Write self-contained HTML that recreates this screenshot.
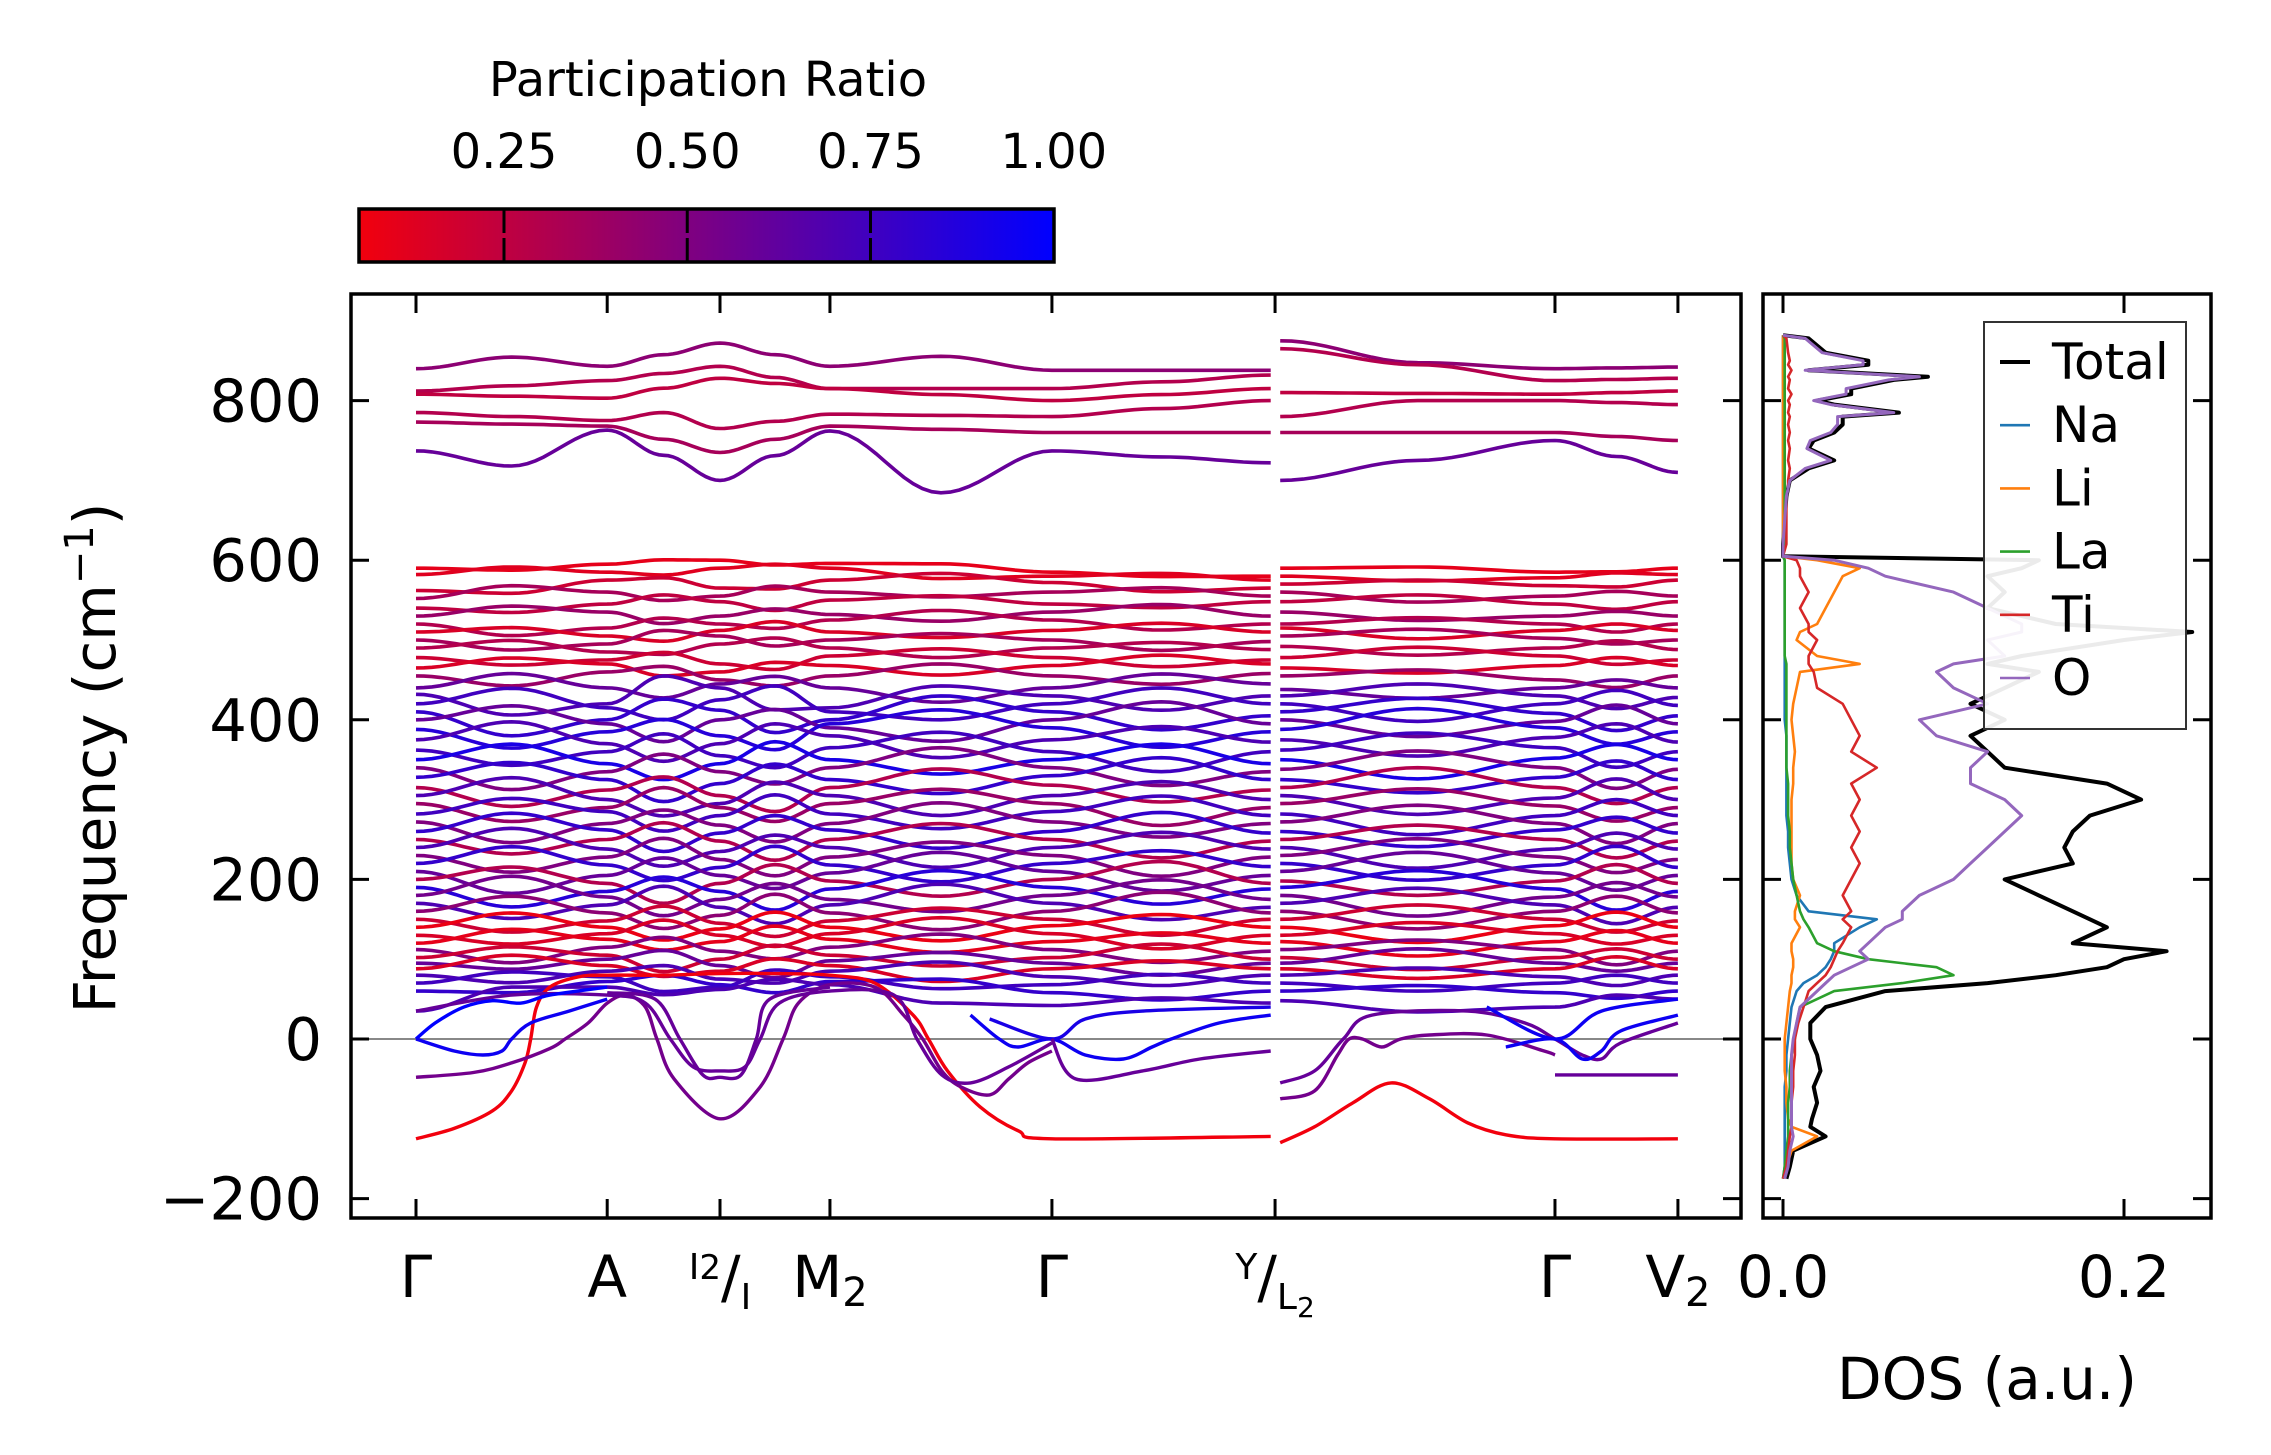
<!DOCTYPE html>
<html><head><meta charset="utf-8"><style>
html,body{margin:0;padding:0;background:#fff;}
svg{display:block;font-family:"DejaVu Sans","Liberation Sans",sans-serif;}
</style></head><body>
<svg id="fig" width="2271" height="1455" viewBox="0 0 2271 1455" xmlns="http://www.w3.org/2000/svg">
<defs>
<linearGradient id="cbgrad" x1="0" x2="1" y1="0" y2="0">
<stop offset="0" stop-color="rgb(242,0,13)"/><stop offset="1" stop-color="rgb(0,0,255)"/>
</linearGradient>
<clipPath id="bandclip"><rect x="351" y="294" width="1390" height="924"/></clipPath>
<clipPath id="dosclip"><rect x="1763" y="294" width="448" height="924"/></clipPath>
</defs>
<g id="colorbar">
<text x="708" y="96" font-size="48" text-anchor="middle">Participation Ratio</text>
<rect x="359" y="209" width="695" height="53" fill="url(#cbgrad)" stroke="#000" stroke-width="3.5"/>
</g>
<g id="bandLayer" clip-path="url(#bandclip)"></g>
<g id="bandAxes"></g>
<g id="dosLayer" clip-path="url(#dosclip)"></g>
<g id="dosAxes"></g>
</svg>
<script>
// ---------- Colorbar data ----------
const cbTicks = [0.25, 0.50, 0.75, 1.00];
const cbTickLabels = ["0.25", "0.50", "0.75", "1.00"];
// ---------- Band structure data ----------
const kLabelPos = [0, 1, 1.59, 2.165, 3.326, 4.493, 5.957, 6.6];
const kNodes = [0, 1, 1.59, 2.165, 3.326, 4.47, 4.52, 5.957, 6.6];
const yTicks = [-200, 0, 200, 400, 600, 800];
const yTickLabels = ["\u2212200", "0", "200", "400", "600", "800"];
// node-valued bands: [Γ, A, I, M2, Γ, Y, L2, Γ, V2]
const bandNodes = [
[840,843,872,843,838,838,875,840,842],
[812,825,843,815,815,832,865,825,828],
[808,803,828,815,800,815,810,808,812],
[785,775,765,783,780,800,780,800,795],
[773,768,735,768,760,760,760,760,750],
[737,763,700,762,737,722,700,750,710],
[590,595,600,596,585,580,590,585,590],
[582,585,590,590,580,575,580,578,582],
[562,575,565,575,572,565,570,568,575],
[552,560,555,560,560,555,560,555,555],
[540,545,548,550,545,548,548,545,548],
[530,535,530,532,535,530,535,530,530],
[520,515,520,525,525,520,520,520,520],
[510,505,512,510,512,510,515,512,512],
[500,495,505,500,500,498,505,502,500],
[490,485,495,490,490,488,492,490,488],
[478,475,470,480,478,475,478,480,475],
[465,470,460,468,468,470,465,468,468],
[455,460,450,455,455,458,455,450,455],
[440,440,445,440,440,445,438,440,440],
[432,420,440,415,430,430,430,430,428],
[420,415,425,410,420,420,420,420,418],
[410,400,412,400,410,405,410,408,405],
[400,395,400,390,400,395,400,398,395],
[388,385,380,395,390,385,388,390,385],
[375,370,370,380,375,372,375,378,372],
[362,360,355,365,360,360,362,365,360],
[350,345,345,350,350,345,350,352,350],
[340,335,335,340,340,335,338,340,338],
[328,325,320,325,330,325,325,328,325],
[315,312,305,315,318,312,315,315,315],
[305,300,295,305,305,300,305,302,300],
[295,290,290,295,295,290,295,292,290],
[282,285,280,282,285,280,282,280,280],
[272,270,268,270,272,270,272,270,270],
[260,262,258,262,260,258,260,262,258],
[250,250,248,250,250,248,250,250,248],
[240,238,235,240,240,238,240,238,238],
[230,228,225,228,230,228,230,228,225],
[220,218,215,218,220,216,220,218,215],
[210,205,205,208,210,205,210,208,205],
[200,195,195,198,200,195,198,198,195],
[190,185,185,188,190,188,190,188,185],
[180,178,175,175,180,175,180,178,178],
[170,168,165,168,170,165,170,168,165],
[160,158,155,158,160,158,160,160,158],
[150,148,145,148,150,150,150,150,148],
[140,140,138,140,142,140,140,142,140],
[130,132,130,132,132,130,130,132,130],
[120,125,122,125,122,120,122,122,120],
[112,115,110,115,112,110,112,112,110],
[102,105,100,105,102,100,102,102,100],
[95,100,92,98,95,95,95,95,95],
[88,92,85,92,88,88,88,88,88],
[80,85,75,85,78,80,80,78,80],
[70,78,65,78,68,70,70,70,70],
[60,72,68,72,58,60,60,58,60],
[35,65,62,68,42,45,48,40,50]
];
// mid-segment offsets: [Γ-A, A-I, I-M2, M2-Γ, Γ-Y, L2-Γ, Γ-V2]
const bandMid = [
[13,0,0,15,0,-10,0],
[0,0,0,0,0,0,0],
[0,0,0,0,0,0,0],
[0,15,0,0,0,10,0],
[0,0,0,0,0,0,0],
[-32,0,0,-65,0,0,0],
[-5,3,-4,5,-3,4,-2],
[8,-6,5,-8,6,-5,4],
[-10,8,-6,10,-8,6,-5],
[12,-8,10,-6,8,-10,6],
[-8,10,-12,8,-6,10,-8],
[10,-12,8,-10,12,-8,6],
[-12,10,-8,12,-10,8,-10],
[8,-10,12,-8,10,-12,8],
[-10,12,-10,8,-12,10,-6],
[12,-8,10,-12,8,-10,10],
[-8,12,-12,10,-10,12,-8],
[10,-10,8,-12,12,-8,10],
[-15,12,-10,15,-12,10,-12],
[18,-15,12,-18,15,-12,10],
[-20,25,-15,20,-18,15,-15],
[22,-20,25,-15,20,-22,18],
[-25,20,-22,25,-20,18,-20],
[20,-25,18,-22,25,-20,22],
[-22,18,-25,20,-22,25,-18],
[25,-22,20,-25,18,-22,20],
[-18,25,-20,22,-25,20,-22],
[22,-20,25,-18,22,-25,18],
[-25,22,-18,25,-20,22,-25],
[20,-25,22,-20,25,-18,22],
[-22,20,-25,22,-18,25,-20],
[25,-18,22,-25,20,-22,25],
[-20,25,-20,18,-25,20,-18],
[18,-22,25,-20,22,-25,20],
[-25,18,-22,25,-18,22,-25],
[22,-25,20,-22,25,-20,18],
[-18,22,-25,20,-22,18,-22],
[25,-20,18,-25,20,-25,20],
[-20,25,-22,18,-25,22,-18],
[22,-18,25,-22,18,-20,25],
[-25,22,-18,25,-22,25,-20],
[18,-25,22,-20,25,-18,22],
[-22,18,-25,22,-20,22,-25],
[25,-22,20,-18,22,-25,18],
[-18,25,-22,25,-18,20,-22],
[20,-18,25,-22,25,-22,20],
[-15,20,-18,15,-20,18,-15],
[18,-15,20,-18,15,-20,18],
[-12,18,-15,20,-18,15,-12],
[15,-12,18,-15,12,-18,15],
[-18,15,-12,18,-15,12,-18],
[12,-18,15,-12,18,-15,12],
[-10,15,-18,12,-15,18,-10],
[15,-10,12,-18,10,-12,15],
[-12,12,-10,15,-12,10,-12],
[10,-12,15,-10,12,-10,10],
[-8,10,-12,10,-10,8,-8],
[15,-8,10,-10,8,-10,10]
];
const bandRatio = [0.45,0.3,0.25,0.3,0.35,0.6,
0.1,0.12,0.2,0.35,0.25,0.4,0.3,0.15,0.35,0.3,0.2,0.15,0.4,0.6,0.7,0.75,0.8,0.6,0.85,0.7,0.75,0.9,0.5,0.8,0.3,0.7,0.4,0.75,0.5,0.8,0.3,0.7,0.5,0.8,0.6,0.3,0.85,0.55,0.7,0.45,0.2,0.08,0.15,0.1,0.5,0.2,0.6,0.15,0.7,0.75,0.8,0.7];
// point-list bands (k, frequency)
const specialBands = [
[[0,-125],[0.2,-112],[0.4,-90],[0.5,-65],[0.57,-30],[0.6,0],[0.63,40],[0.7,65],[0.85,78],[1.0,80],[1.3,80],[1.59,82],[1.9,82],[2.165,80],[2.4,70],[2.6,30],[2.68,0],[2.78,-40],[2.95,-85],[3.15,-115],[3.326,-125],[4.47,-122]],
[[4.52,-130],[4.7,-110],[4.9,-80],[5.1,-55],[5.3,-75],[5.5,-105],[5.7,-120],[5.957,-125],[6.6,-125]],
[[0,-48],[0.3,-42],[0.5,-30],[0.7,-12],[0.78,0],[0.9,20],[1.0,45],[1.1,55],[1.2,40],[1.26,0],[1.35,-50],[1.59,-100],[1.8,-60],[1.92,0],[2.0,45],[2.165,68],[2.4,65],[2.55,30],[2.65,0],[2.75,-40],[2.85,-60],[3.0,-70],[3.1,-50],[3.2,-30],[3.326,-15]],
[[0,35],[0.5,55],[1.0,55],[1.2,45],[1.33,0],[1.45,-35],[1.59,-40],[1.72,-35],[1.8,0],[1.9,45],[2.165,60],[2.5,55],[2.62,0],[2.75,-45],[2.9,-55],[3.1,-35],[3.326,-5]],
[[1.0,58],[1.25,50],[1.38,0],[1.5,-45],[1.59,-48],[1.7,-45],[1.78,0],[1.85,50],[2.165,65]],
[[0,0],[0.1,20],[0.25,40],[0.4,48],[0.55,45],[0.7,55],[1.0,65]],
[[0,0],[0.2,-15],[0.35,-20],[0.45,-15],[0.5,0],[0.6,20],[0.8,35],[1.0,50]],
[[2.9,30],[3.05,0],[3.15,-10],[3.326,0],[3.5,-20],[3.7,-25],[3.85,-10],[3.95,0],[4.2,20],[4.47,30]],
[[3.0,25],[3.326,0],[3.5,25],[3.8,35],[4.47,40]],
[[3.326,0],[3.45,-50],[3.8,-40],[4.1,-25],[4.47,-15]],
[[4.52,-55],[4.7,-40],[4.85,0],[5.0,30],[5.5,35],[5.8,20],[5.957,0],[6.1,-20],[6.2,-25],[6.3,-5],[6.6,20]],
[[4.52,-75],[4.7,-65],[4.82,-20],[4.88,0],[4.95,0],[5.05,-10],[5.15,0],[5.3,5],[5.6,5],[5.9,-15],[5.957,-20]],
[[5.957,-45],[6.2,-45],[6.6,-45]],
[[5.6,40],[5.957,0],[6.2,35],[6.6,50]],
[[5.7,-10],[5.957,0],[6.1,-25],[6.2,-15],[6.3,10],[6.6,30]]
];
const specialRatio = [0.05,0.05,0.55,0.6,0.6,1.0,0.95,0.95,0.9,0.6,0.6,0.55,0.6,0.95,0.95];
// ---------- DOS data ----------
const dosFreq = [-175,-160,-140,-122,-110,-100,-80,-60,-40,-20,0,20,40,60,70,80,90,100,110,120,140,150,160,180,200,220,240,260,280,300,320,340,360,380,400,420,440,460,470,480,500,510,520,540,560,580,590,600,605,620,680,690,700,715,725,740,750,760,770,780,785,795,800,808,815,826,830,838,845,850,860,878,882];
const dosTotal = [0.002,0.004,0.006,0.025,0.016,0.017,0.02,0.018,0.022,0.02,0.016,0.016,0.025,0.06,0.12,0.16,0.19,0.2,0.225,0.17,0.19,0.18,0.17,0.15,0.13,0.17,0.165,0.17,0.18,0.21,0.19,0.13,0.12,0.11,0.13,0.11,0.13,0.15,0.12,0.14,0.2,0.24,0.16,0.12,0.13,0.12,0.14,0.15,0.0,0.0,0.002,0.003,0.004,0.015,0.03,0.015,0.018,0.03,0.035,0.035,0.068,0.03,0.02,0.04,0.04,0.065,0.085,0.015,0.05,0.05,0.025,0.015,0.0];
const dosNa = [0,0.001,0.001,0.001,0.001,0.001,0.001,0.001,0.002,0.002,0.003,0.004,0.005,0.008,0.012,0.02,0.025,0.028,0.03,0.03,0.045,0.055,0.015,0.008,0.005,0.004,0.003,0.003,0.002,0.002,0.002,0.002,0.002,0.002,0.001,0.001,0.001,0.001,0.001,0.001,0.001,0.001,0.001,0.001,0.001,0.001,0.001,0.001,0,0,0,0,0,0,0,0,0,0,0,0,0,0,0,0,0,0,0,0,0,0,0,0,0];
const dosLi = [0,0.002,0.005,0.02,0.005,0.003,0.002,0.002,0.001,0.001,0.001,0.002,0.003,0.004,0.005,0.005,0.006,0.006,0.005,0.005,0.01,0.007,0.007,0.01,0.006,0.005,0.005,0.005,0.005,0.005,0.006,0.006,0.007,0.006,0.005,0.006,0.008,0.01,0.045,0.02,0.008,0.01,0.02,0.025,0.03,0.035,0.045,0.02,0,0,0,0,0,0,0,0,0,0,0,0,0,0,0,0,0,0,0,0,0,0,0,0,0];
const dosLa = [0,0.001,0.002,0.003,0.003,0.003,0.003,0.004,0.004,0.005,0.007,0.008,0.01,0.03,0.07,0.1,0.09,0.05,0.03,0.02,0.015,0.012,0.01,0.008,0.006,0.005,0.004,0.004,0.003,0.003,0.003,0.002,0.002,0.002,0.002,0.002,0.002,0.002,0.002,0.001,0.001,0.001,0.001,0.001,0.001,0.001,0.001,0.001,0,0.001,0.001,0.001,0.001,0.001,0.001,0.001,0.001,0.001,0.001,0.001,0.001,0.001,0.001,0.001,0.001,0.001,0.001,0.001,0.001,0.001,0.001,0.001,0];
const dosTi = [0,0.002,0.003,0.004,0.005,0.005,0.005,0.006,0.006,0.007,0.007,0.009,0.012,0.015,0.02,0.025,0.028,0.03,0.032,0.035,0.04,0.035,0.04,0.035,0.04,0.045,0.04,0.045,0.04,0.045,0.04,0.055,0.04,0.045,0.04,0.035,0.02,0.018,0.015,0.015,0.02,0.015,0.015,0.01,0.015,0.01,0.01,0.008,0,0.002,0.002,0.003,0.003,0.004,0.003,0.004,0.003,0.004,0.003,0.004,0.003,0.004,0.003,0.005,0.003,0.004,0.003,0.005,0.003,0.004,0.003,0.002,0];
const dosO = [0.001,0.003,0.004,0.006,0.005,0.005,0.005,0.005,0.005,0.005,0.006,0.008,0.01,0.02,0.025,0.03,0.04,0.05,0.045,0.05,0.06,0.07,0.07,0.08,0.1,0.11,0.12,0.13,0.14,0.13,0.11,0.11,0.12,0.09,0.08,0.12,0.1,0.09,0.1,0.13,0.12,0.14,0.14,0.12,0.1,0.06,0.05,0.03,0,0,0.002,0.003,0.004,0.013,0.028,0.014,0.016,0.028,0.032,0.032,0.065,0.028,0.018,0.037,0.037,0.062,0.08,0.013,0.047,0.047,0.023,0.013,0];
const dosXTicks = [0.0, 0.2];
const dosXTickLabels = ["0.0", "0.2"];
const legendNames = ["Total","Na","Li","La","Ti","O"];

// ---------- scales ----------
const NS = "http://www.w3.org/2000/svg";
function xk(k){ return 416 + k*191.2; }
function yf(f){ return 1039 - f*0.798; }
function xd(d){ return 1783 + d*1705; }
function xcb(r){ return 504 + (r-0.25)*733; }
function rcol(r){ r=Math.max(0,Math.min(1,r)); return "rgb("+Math.round(255*(1-r))+",0,"+Math.round(255*r)+")"; }
function mk(tag, attrs, parent){ const e=document.createElementNS(NS,tag); for(const a in attrs) e.setAttribute(a,attrs[a]); parent.appendChild(e); return e; }
function catmull(pts){
  let d="M"+pts[0][0].toFixed(1)+","+pts[0][1].toFixed(1);
  for(let i=0;i<pts.length-1;i++){
    const p0=pts[i-1]||pts[i], p1=pts[i], p2=pts[i+1], p3=pts[i+2]||p2;
    const c1=[p1[0]+(p2[0]-p0[0])/6, p1[1]+(p2[1]-p0[1])/6];
    const c2=[p2[0]-(p3[0]-p1[0])/6, p2[1]-(p3[1]-p1[1])/6];
    d+=" C"+c1[0].toFixed(1)+","+c1[1].toFixed(1)+" "+c2[0].toFixed(1)+","+c2[1].toFixed(1)+" "+p2[0].toFixed(1)+","+p2[1].toFixed(1);
  }
  return d;
}
const cbG=document.getElementById("colorbar");
cbTicks.forEach((t,i)=>{
  const x=xcb(t);
  if(i<3){
    const a=mk("line",{x1:x,x2:x,y1:209,y2:233,stroke:"#000","stroke-width":3},cbG);
    
    
    const b=mk("line",{x1:x,x2:x,y1:238,y2:262,stroke:"#000","stroke-width":3},cbG);
    
    
  }
  const tx=mk("text",{x:x,y:168,"font-size":48,"text-anchor":"middle"},cbG);
  
  
  tx.textContent=cbTickLabels[i];
});
// bands
const bL=document.getElementById("bandLayer");
const zl=mk("line",{x1:351,x2:1741,y1:yf(0),y2:yf(0),stroke:"#888","stroke-width":2},bL);


function expand(vals, mids, i0, i1, m0){
  const ks=[], vs=[];
  for(let i=i0;i<i1;i++){
    ks.push(kNodes[i]); vs.push(vals[i]);
    ks.push((kNodes[i]+kNodes[i+1])/2); vs.push((vals[i]+vals[i+1])/2 + mids[m0+(i-i0)]);
  }
  ks.push(kNodes[i1]); vs.push(vals[i1]);
  const pts=[];
  for(let j=0;j<ks.length-1;j++){
    for(let s=0;s<12;s++){
      const t=s/12, w=(1-Math.cos(Math.PI*t))/2;
      pts.push([xk(ks[j]+(ks[j+1]-ks[j])*t), yf(vs[j]+(vs[j+1]-vs[j])*w)]);
    }
  }
  pts.push([xk(ks[ks.length-1]), yf(vs[vs.length-1])]);
  return "M"+pts.map(p=>p[0].toFixed(1)+","+p[1].toFixed(1)).join(" L");
}
bandNodes.forEach((vals,bi)=>{
  const c=rcol(bandRatio[bi]);
  const p1=mk("path",{d:expand(vals,bandMid[bi],0,5,0),fill:"none",stroke:c,"stroke-width":3.6},bL);
  
  
  const p2=mk("path",{d:expand(vals,bandMid[bi],6,8,5),fill:"none",stroke:c,"stroke-width":3.6},bL);
  
  
});
specialBands.forEach((pl,bi)=>{
  const p=mk("path",{d:catmull(pl.map(q=>[xk(q[0]),yf(q[1])])),fill:"none",stroke:rcol(specialRatio[bi]),"stroke-width":3.4},bL);
  
  
});
// band axes
const bA=document.getElementById("bandAxes");
const frame=mk("rect",{x:351,y:294,width:1390,height:924,fill:"none",stroke:"#000","stroke-width":3.5},bA);


yTicks.forEach((v,i)=>{
  const y=yf(v);
  const t1=mk("line",{x1:351,x2:369,y1:y,y2:y,stroke:"#000","stroke-width":3},bA);
  
  
  const t2=mk("line",{x1:1723,x2:1741,y1:y,y2:y,stroke:"#000","stroke-width":3},bA);
  
  
  const tx=mk("text",{x:322,y:y+21,"font-size":59,"text-anchor":"end"},bA);
  
  
  tx.textContent=yTickLabels[i];
});
kLabelPos.forEach(k=>{
  const x=xk(k);
  const a=mk("line",{x1:x,x2:x,y1:294,y2:313,stroke:"#000","stroke-width":3},bA);
  
  
  const b=mk("line",{x1:x,x2:x,y1:1199,y2:1218,stroke:"#000","stroke-width":3},bA);
  
  
});
const labHTML=[
 [xk(0),'<tspan>Γ</tspan>'],
 [xk(1),'<tspan>A</tspan>'],
 [xk(1.59),'<tspan font-size="36" dy="-18">I</tspan><tspan font-size="34">2</tspan><tspan dy="18">/</tspan><tspan font-size="36" dy="12">I</tspan>'],
 [xk(2.165),'<tspan>M</tspan><tspan font-size="40" dy="9">2</tspan>'],
 [xk(3.326),'<tspan>Γ</tspan>'],
 [xk(4.493),'<tspan font-size="36" dy="-18">Y</tspan><tspan dy="18">/</tspan><tspan font-size="36" dy="12">L</tspan><tspan font-size="28" dy="8">2</tspan>'],
 [xk(5.957),'<tspan>Γ</tspan>'],
 [xk(6.6),'<tspan>V</tspan><tspan font-size="40" dy="9">2</tspan>']
];
labHTML.forEach(l=>{
  const t=document.createElementNS(NS,"text");
  t.setAttribute("x",l[0]);t.setAttribute("y",1297);t.setAttribute("font-size",58);t.setAttribute("text-anchor","middle");
  
  
  t.innerHTML=l[1];
  bA.appendChild(t);
});
const yl=document.createElementNS(NS,"text");
yl.setAttribute("transform","translate(115,758) rotate(-90)");
yl.setAttribute("font-size",58);yl.setAttribute("text-anchor","middle");


yl.innerHTML='Frequency (cm<tspan font-size="40" dy="-22">\u22121</tspan><tspan dy="22">)</tspan>';
bA.appendChild(yl);

// DOS
const dL=document.getElementById("dosLayer");
const dosSeries=[dosTotal,dosNa,dosLi,dosLa,dosTi,dosO];
const dosColors=["#000","#1f77b4","#ff7f0e","#2ca02c","#d62728","#9467bd"];
const dosWidths=[4,2.6,2.6,2.6,2.6,3];
dosSeries.forEach((s,i)=>{
  const d="M"+s.map((v,j)=>xd(v).toFixed(1)+","+yf(dosFreq[j]).toFixed(1)).join(" L");
  const p=mk("path",{d:d,fill:"none",stroke:dosColors[i],"stroke-width":dosWidths[i],"stroke-linejoin":"round"},dL);
  
  
});
const dA=document.getElementById("dosAxes");
const df=mk("rect",{x:1763,y:294,width:448,height:924,fill:"none",stroke:"#000","stroke-width":3.5},dA);


yTicks.forEach(v=>{
  const y=yf(v);
  const a=mk("line",{x1:1763,x2:1781,y1:y,y2:y,stroke:"#000","stroke-width":3},dA);
  
  
  const b=mk("line",{x1:2193,x2:2211,y1:y,y2:y,stroke:"#000","stroke-width":3},dA);
  
  
});
dosXTicks.forEach((v,i)=>{
  const x=xd(v);
  const a=mk("line",{x1:x,x2:x,y1:294,y2:313,stroke:"#000","stroke-width":3},dA);
  
  
  const b=mk("line",{x1:x,x2:x,y1:1199,y2:1218,stroke:"#000","stroke-width":3},dA);
  
  
  const t=mk("text",{x:x,y:1297,"font-size":58,"text-anchor":"middle"},dA);
  
  
  t.textContent=dosXTickLabels[i];
});
const dxl=mk("text",{x:1987,y:1399,"font-size":58,"text-anchor":"middle"},dA);


dxl.textContent="DOS (a.u.)";
// legend
const lg=mk("g",{},dA);


const lb=mk("rect",{x:1984,y:322,width:202,height:407,fill:"#fff","fill-opacity":0.92,stroke:"#333","stroke-width":2},lg);


legendNames.forEach((n,i)=>{
  const y=362+i*63.2;
  const ln=mk("line",{x1:2000,x2:2030,y1:y,y2:y,stroke:dosColors[i],"stroke-width":i==0?4:2.6},lg);
  
  
  const t=mk("text",{x:2052,y:y+17,"font-size":50},lg);
  
  
  t.textContent=n;
});
</script>
</body></html>
